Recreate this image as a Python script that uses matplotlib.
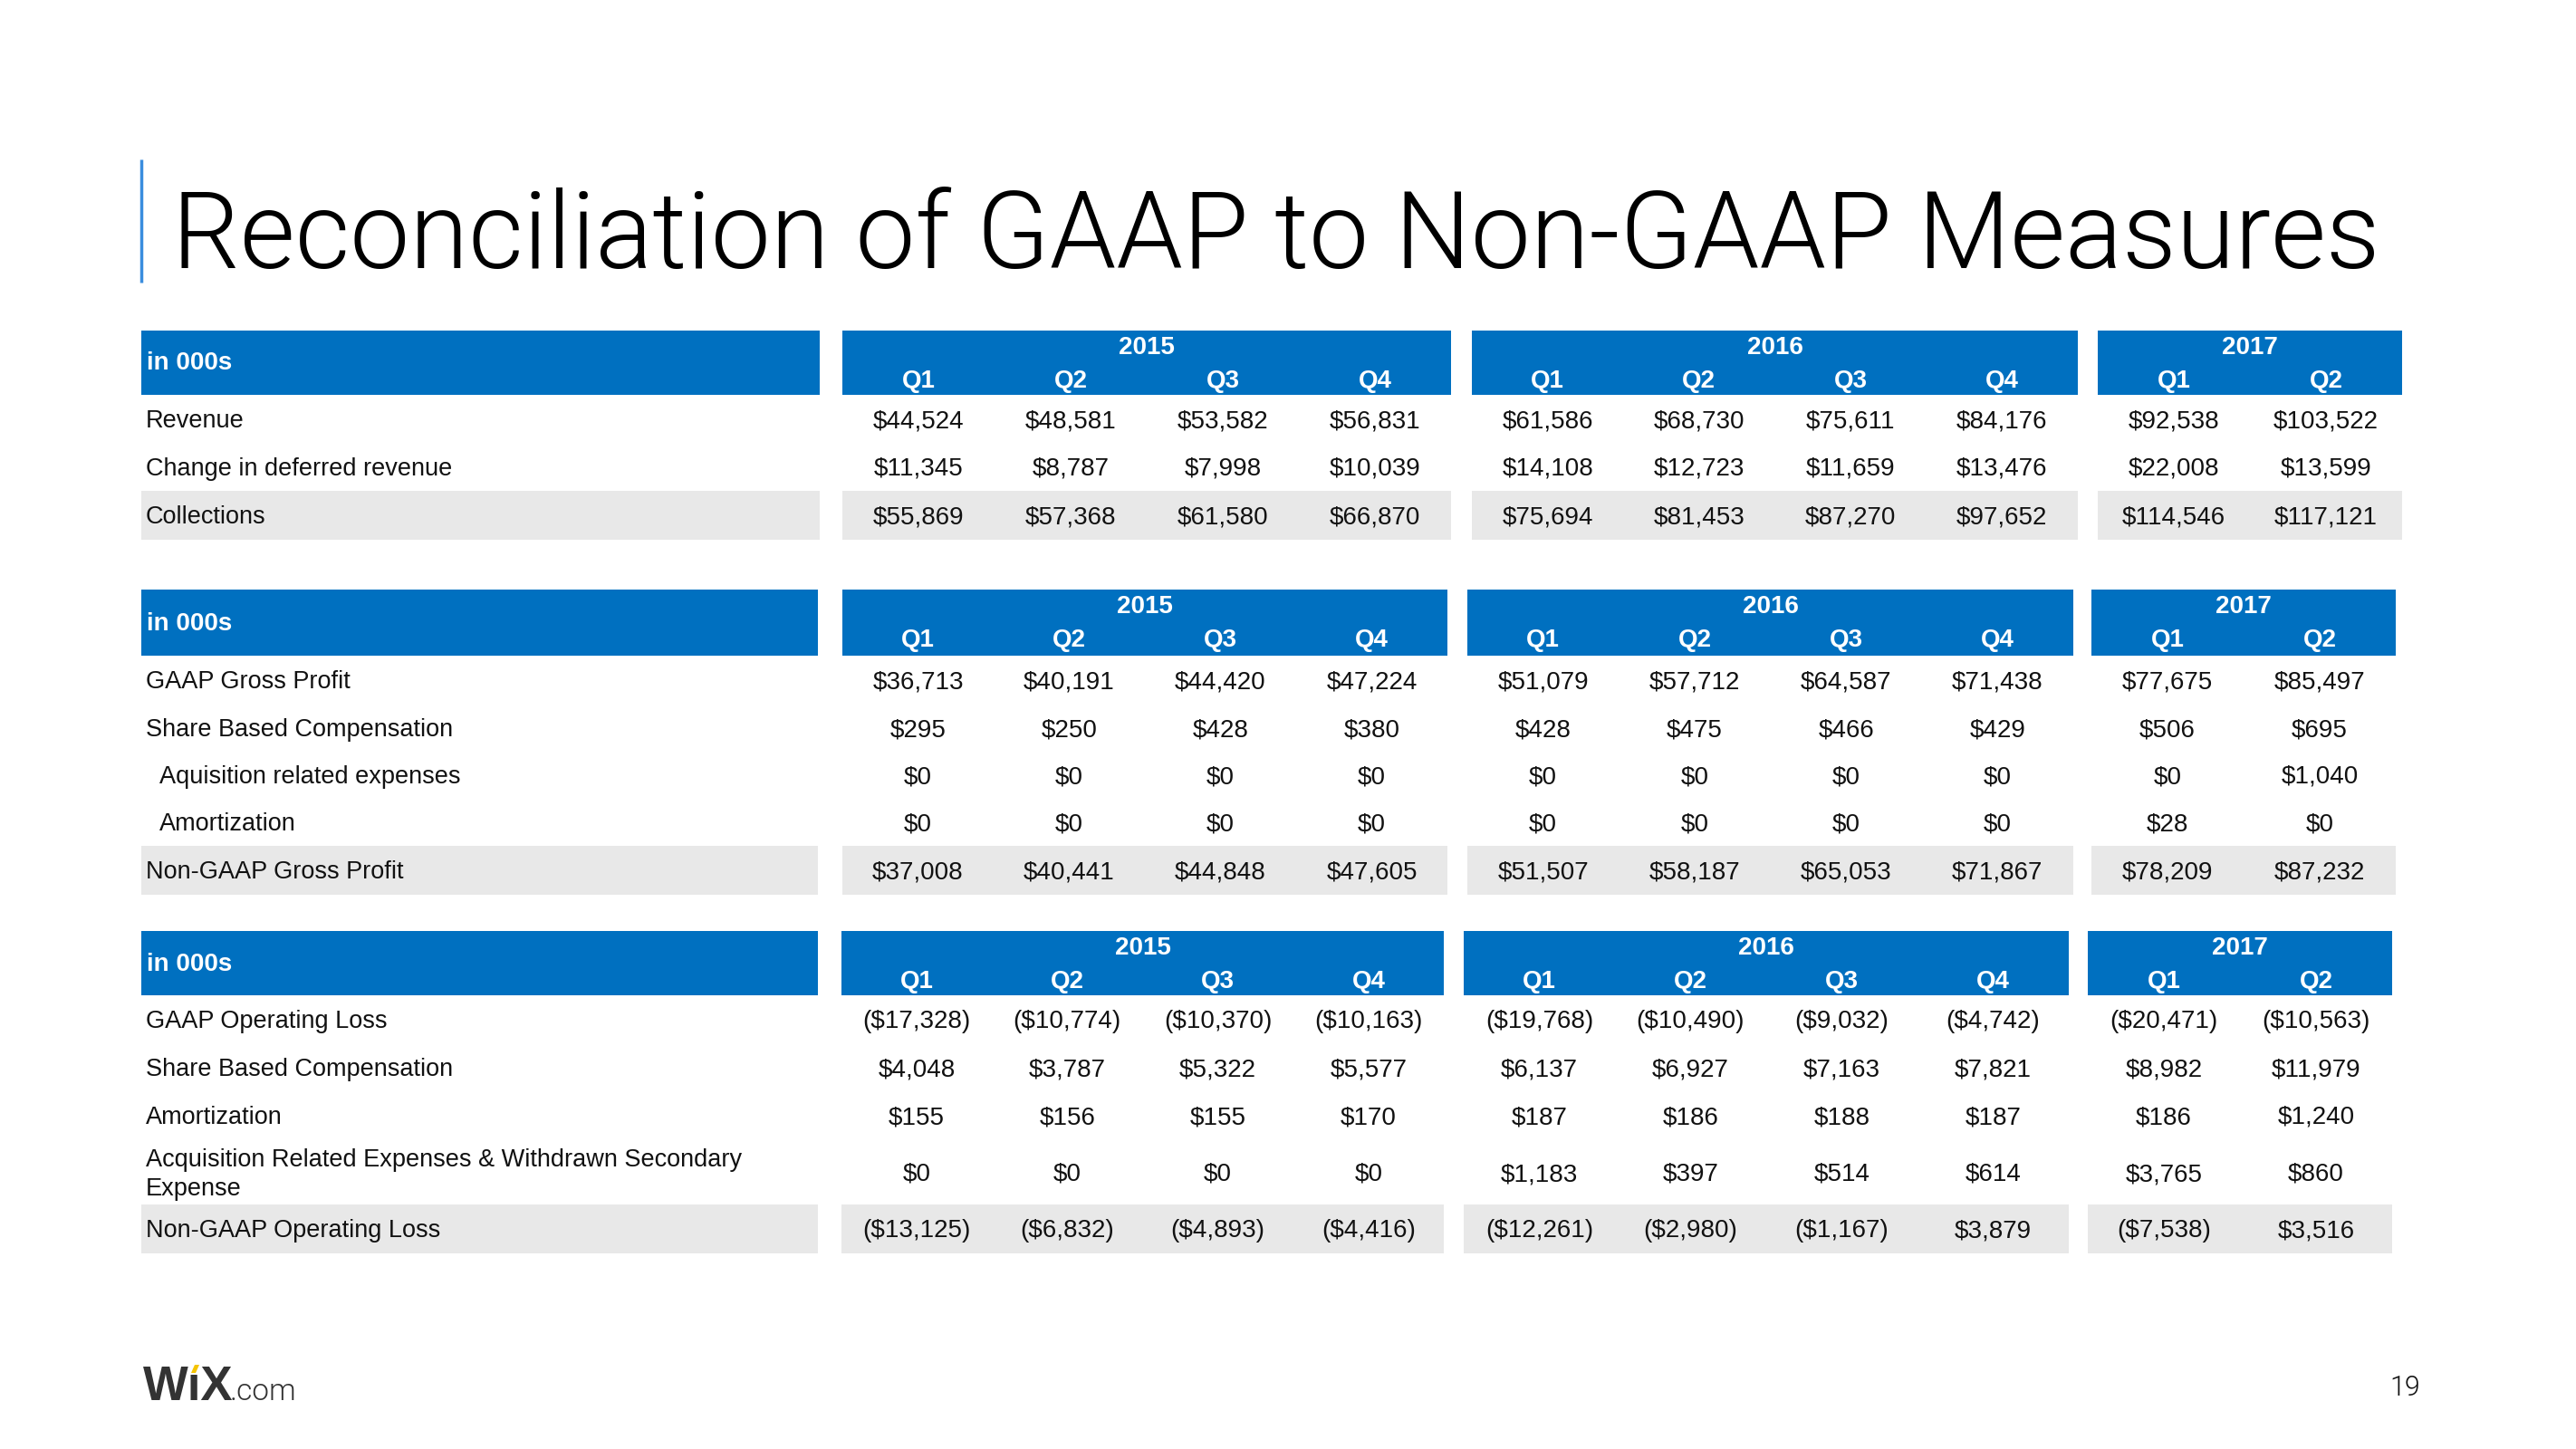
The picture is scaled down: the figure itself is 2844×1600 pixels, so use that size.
import matplotlib
matplotlib.use('Agg')
import matplotlib.pyplot as plt
from matplotlib import font_manager
from matplotlib.patches import Rectangle, Polygon

# data (in 000s)
years = ['2015', '2016', '2017']
quarters = [['Q1', 'Q2', 'Q3', 'Q4'], ['Q1', 'Q2', 'Q3', 'Q4'], ['Q1', 'Q2']]

revenue = [44524, 48581, 53582, 56831, 61586, 68730, 75611, 84176, 92538, 103522]
deferred_revenue = [11345, 8787, 7998, 10039, 14108, 12723, 11659, 13476, 22008, 13599]
collections = [55869, 57368, 61580, 66870, 75694, 81453, 87270, 97652, 114546, 117121]

gaap_gross_profit = [36713, 40191, 44420, 47224, 51079, 57712, 64587, 71438, 77675, 85497]
sbc_gross = [295, 250, 428, 380, 428, 475, 466, 429, 506, 695]
acq_gross = [0, 0, 0, 0, 0, 0, 0, 0, 0, 1040]
amort_gross = [0, 0, 0, 0, 0, 0, 0, 0, 28, 0]
nongaap_gross_profit = [37008, 40441, 44848, 47605, 51507, 58187, 65053, 71867, 78209, 87232]

gaap_op_loss = [-17328, -10774, -10370, -10163, -19768, -10490, -9032, -4742, -20471, -10563]
sbc_op = [4048, 3787, 5322, 5577, 6137, 6927, 7163, 7821, 8982, 11979]
amort_op = [155, 156, 155, 170, 187, 186, 188, 187, 186, 1240]
acq_op = [0, 0, 0, 0, 1183, 397, 514, 614, 3765, 860]
nongaap_op_loss = [-13125, -6832, -4893, -4416, -12261, -2980, -1167, 3879, -7538, 3516]

labels1 = ['Revenue', 'Change in deferred revenue', 'Collections']
labels2 = ['GAAP Gross Profit', 'Share Based Compensation', 'Aquisition related expenses',
           'Amortization', 'Non-GAAP Gross Profit']
labels3 = ['GAAP Operating Loss', 'Share Based Compensation', 'Amortization',
           'Acquisition Related Expenses & Withdrawn Secondary\nExpense', 'Non-GAAP Operating Loss']

BLUE = '#0070C0'
GREY = '#E8E8E8'
TXT = '#111111'
BODY = 'Liberation Sans'


def money(v):
    if v < 0:
        return '(${:,})'.format(-v)
    return '${:,}'.format(v)


def pick_light():
    for fam in ['Roboto', 'Lato', 'Inter', 'Open Sans', 'Noto Sans']:
        for f in font_manager.fontManager.ttflist:
            w = f.weight
            if isinstance(w, str):
                w = font_manager.weight_dict.get(w, 400)
            if f.name == fam and w == 300 and f.style == 'normal' and f.stretch == 'normal':
                return font_manager.FontProperties(fname=f.fname)
    return font_manager.FontProperties(family='Liberation Sans')


def draw_table(ax, hdr, label_x, blocks, row_y, band, labels, rows, indent=()):
    top, bot = hdr
    # header bands
    ax.add_patch(Rectangle((label_x[0], top), label_x[1] - label_x[0], bot - top, color=BLUE, lw=0))
    ax.text(label_x[0] + 6, (top + bot) / 2 + 1, 'in 000s', color='white', fontsize=20,
            fontweight='bold', family=BODY, va='center', ha='left')
    # total row band
    ax.add_patch(Rectangle((label_x[0], band[0]), label_x[1] - label_x[0], band[1] - band[0], color=GREY, lw=0))
    centers = []
    for (x0, x1), yr, qs in zip(blocks, years, quarters):
        ax.add_patch(Rectangle((x0, top), x1 - x0, bot - top, color=BLUE, lw=0))
        ax.add_patch(Rectangle((x0, band[0]), x1 - x0, band[1] - band[0], color=GREY, lw=0))
        ax.text((x0 + x1) / 2, top + 19, yr, color='white', fontsize=20, fontweight='bold',
                family=BODY, ha='center', va='center')
        w = (x1 - x0) / len(qs)
        for i, q in enumerate(qs):
            cx = x0 + w * (i + 0.5)
            centers.append(cx)
            ax.text(cx, top + 56, q, color='white', fontsize=20, fontweight='bold',
                    family=BODY, ha='center', va='center')
    for k, (lab, vals, y) in enumerate(zip(labels, rows, row_y)):
        lx = label_x[0] + (20 if k in indent else 5)
        ax.text(lx, y + 2, lab, color=TXT, fontsize=19.5, family=BODY, ha='left', va='center',
                linespacing=1.3)
        for cx, v in zip(centers, vals):
            ax.text(cx, y + 2, money(v), color=TXT, fontsize=20, family=BODY, ha='center', va='center')


fig = plt.figure(figsize=(28.44, 16), dpi=100)
ax = fig.add_axes([0, 0, 1, 1])
ax.set_xlim(0, 2844)
ax.set_ylim(1600, 0)
ax.axis('off')

light = pick_light()

# title with accent bar
ax.plot([156, 156], [176, 312], color='#3A8DDE', lw=2.5, solid_capstyle='butt')
title = ax.text(190, 296, 'Reconciliation of GAAP to Non-GAAP Measures', fontproperties=light,
                fontsize=84, color='#000000', ha='left', va='baseline')
fig.canvas.draw()
bb = title.get_window_extent()
title.set_fontsize(84 * 2434 / bb.width)

draw_table(ax, (365, 436), (156, 905),
           [(930, 1602), (1625, 2294), (2316, 2652)],
           [463, 516, 569], (542, 596),
           labels1, [revenue, deferred_revenue, collections])

draw_table(ax, (651, 724), (156, 903),
           [(930, 1598), (1620, 2289), (2309, 2645)],
           [751, 804, 856, 908, 961], (934, 988),
           labels2, [gaap_gross_profit, sbc_gross, acq_gross, amort_gross, nongaap_gross_profit],
           indent=(2, 3))

draw_table(ax, (1028, 1099), (156, 903),
           [(929, 1594), (1616, 2284), (2305, 2641)],
           [1126, 1179, 1232, 1295, 1357], (1330, 1384),
           labels3, [gaap_op_loss, sbc_op, amort_op, acq_op, nongaap_op_loss])

# footer: logo and page number
ax.text(158, 1546, 'W\u0131X', fontsize=38, fontweight='bold', family=BODY, color='#333333',
        ha='left', va='baseline')
ax.add_patch(Polygon([[211, 1516], [215, 1507], [220, 1507], [216, 1516]], color='#F5C400', lw=0))
ax.text(254, 1546, '.com', fontproperties=light, fontsize=24, color='#333333', ha='left', va='baseline')
ax.text(2672, 1541, '19', fontproperties=light, fontsize=22, color='#111111',
        ha='right', va='baseline')

fig.savefig('out.png', dpi=100)
